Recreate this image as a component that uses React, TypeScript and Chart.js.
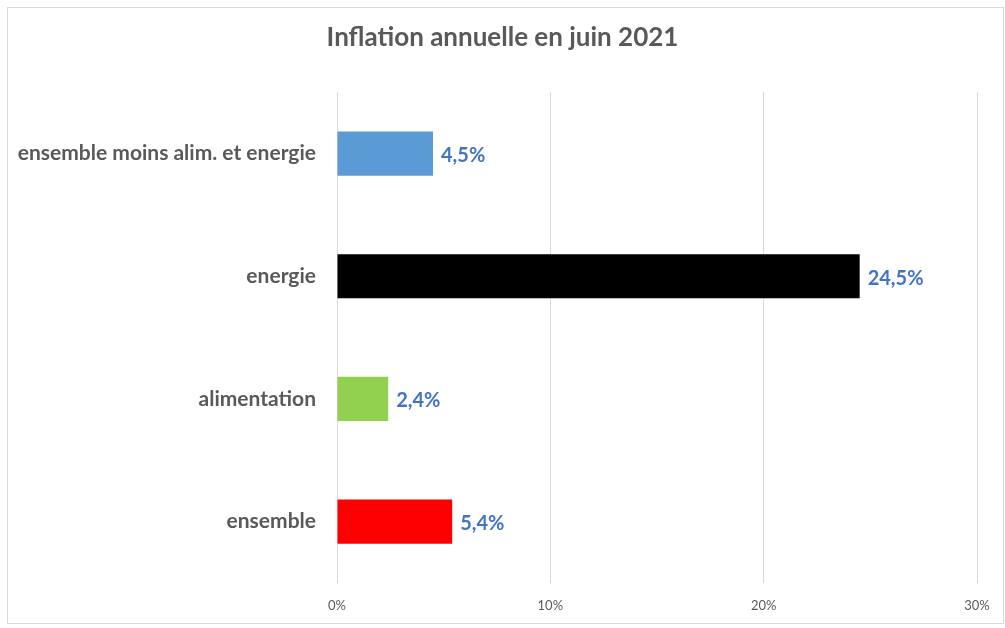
import React, { useEffect, useRef } from "react";
import { Chart, registerables } from "chart.js";

Chart.register(...registerables);

const TITLE = "Inflation annuelle en juin 2021";
const categories = [
  "ensemble moins alim. et energie",
  "energie",
  "alimentation",
  "ensemble",
];
const values = [4.5, 24.5, 2.4, 5.4];
const barColors = ["#5B9BD5", "#000000", "#92D050", "#FF0000"];
const xTicks = [0, 10, 20, 30];

const FONT = "Lato, 'Open Sans', sans-serif";

const frame = {
  id: "frame",
  beforeDraw(chart: any) {
    const ctx = chart.ctx;
    ctx.save();
    ctx.fillStyle = "#ffffff";
    ctx.fillRect(0, 0, chart.width, chart.height);
    ctx.strokeStyle = "#d9d9d9";
    ctx.lineWidth = 1;
    ctx.strokeRect(7.5, 7.5, 996, 616);
    ctx.restore();
  },
};

const valueLabels = {
  id: "valueLabels",
  afterDatasetsDraw(chart: any) {
    const ctx = chart.ctx;
    const meta = chart.getDatasetMeta(0);
    ctx.save();
    ctx.font = `bold 20px ${FONT}`;
    ctx.fillStyle = "#4472C4";
    ctx.textAlign = "left";
    ctx.textBaseline = "middle";
    meta.data.forEach((bar: any, i: number) => {
      const v = chart.data.datasets[0].data[i] as number;
      const txt = v.toFixed(1).replace(".", ",") + "%";
      ctx.fillText(txt, bar.x + 8, bar.y + 2);
    });
    ctx.restore();
  },
};

export default function App() {
  const ref = useRef<HTMLCanvasElement | null>(null);
  useEffect(() => {
    if (!ref.current) return;
    const chart = new Chart(ref.current, {
      type: "bar",
      data: {
        labels: categories,
        datasets: [
          {
            data: values,
            backgroundColor: barColors,
            borderWidth: 0,
            categoryPercentage: 1,
            barPercentage: 0.36,
          },
        ],
      },
      options: {
        indexAxis: "y",
        responsive: false,
        animation: false,
        devicePixelRatio: 1,
        layout: { padding: { left: 0, right: 0, top: 0, bottom: 0 } },
        plugins: {
          legend: { display: false },
          tooltip: { enabled: false },
          title: {
            display: true,
            text: TITLE,
            color: "#595959",
            font: { family: FONT, size: 26, weight: "bold" },
            padding: { top: 22, bottom: 39 },
          },
        },
        scales: {
          x: {
            min: 0,
            max: 30,
            afterBuildTicks(scale: any) {
              scale.ticks = xTicks.map((v) => ({ value: v }));
            },
            afterFit(scale: any) {
              scale.height = 45;
            },
            grid: { color: "#d9d9d9", drawTicks: false, lineWidth: 1 },
            border: { display: false },
            ticks: {
              color: "#595959",
              font: { family: FONT, size: 13 },
              padding: 15,
              callback: (v: any) => v + "%",
            },
          },
          y: {
            afterFit(scale: any) {
              scale.width = 337;
            },
            grid: { display: false, drawTicks: false },
            border: { display: false },
            ticks: {
              color: "#595959",
              font: { family: FONT, size: 21, weight: "bold" },
              padding: 21,
            },
          },
          spacer: {
            type: "linear",
            axis: "y",
            position: "right",
            min: 0,
            max: 1,
            afterFit(scale: any) {
              scale.width = 28;
            },
            grid: { display: false, drawTicks: false },
            border: { display: false },
            ticks: { display: false },
          },
        },
      },
      plugins: [frame, valueLabels],
    });
    return () => chart.destroy();
  }, []);
  return (
    <div style={{ position: "fixed", left: 0, top: 0, width: 1005, height: 628 }}>
      <canvas ref={ref} width={1005} height={628} />
    </div>
  );
}
